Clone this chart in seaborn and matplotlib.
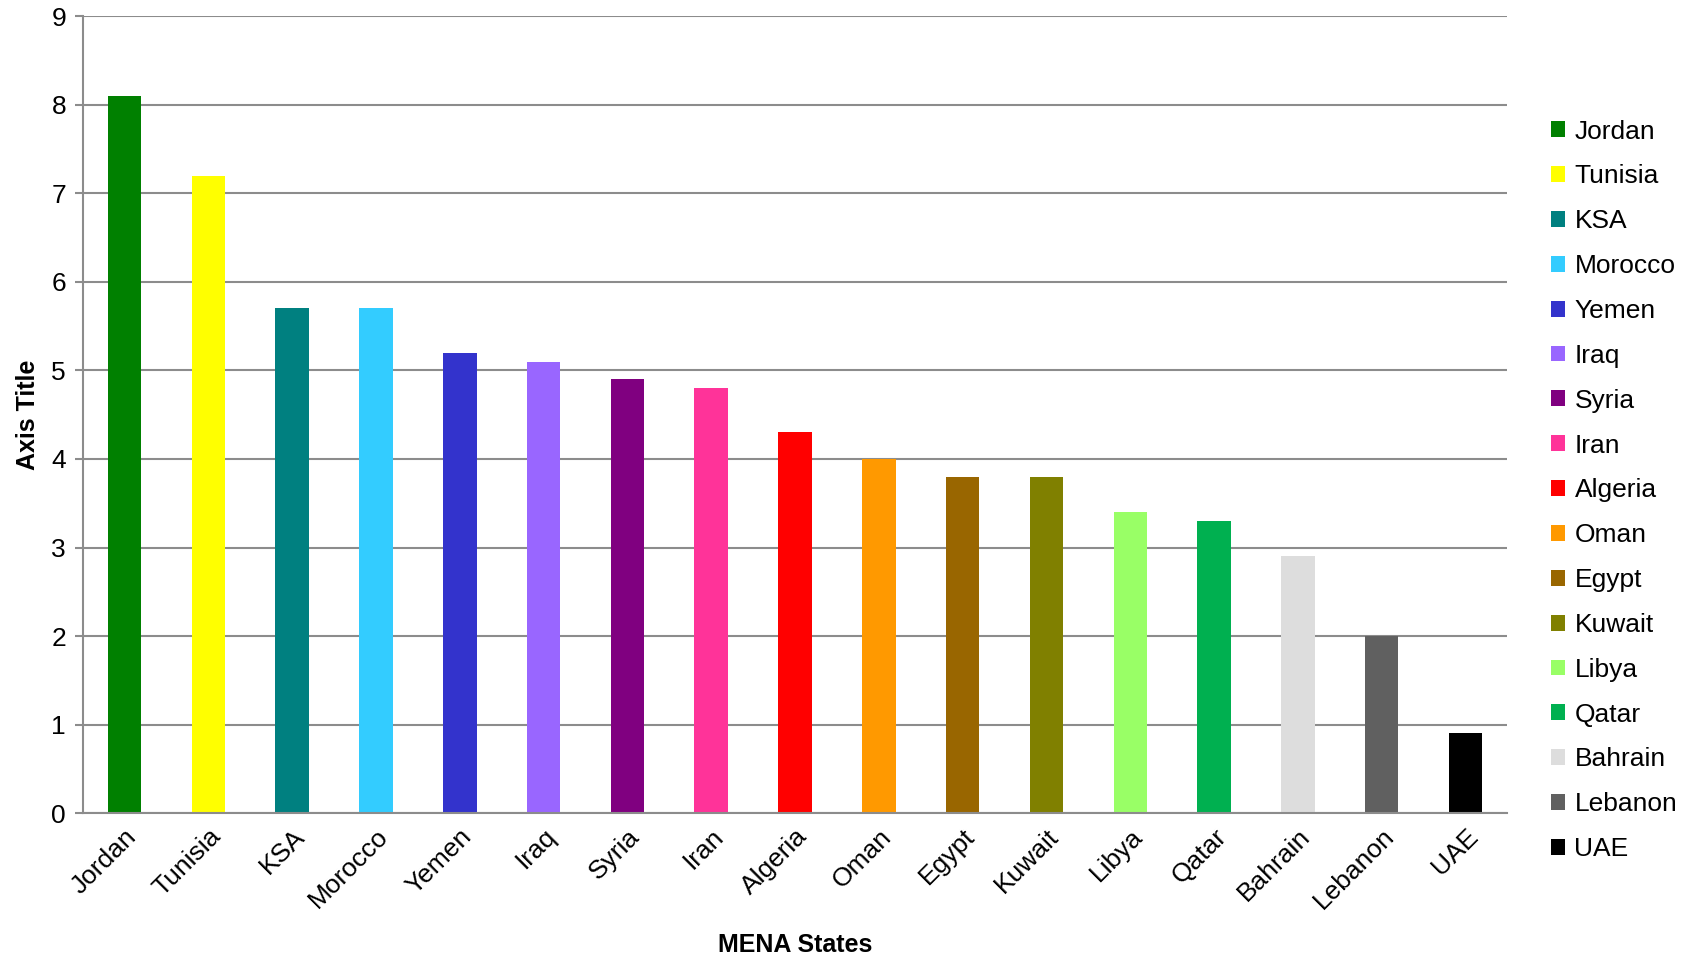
import matplotlib
matplotlib.use("Agg")
import matplotlib.pyplot as plt
import seaborn as sns
import pandas as pd

countries = ["Jordan", "Tunisia", "KSA", "Morocco", "Yemen", "Iraq", "Syria", "Iran",
             "Algeria", "Oman", "Egypt", "Kuwait", "Libya", "Qatar", "Bahrain",
             "Lebanon", "UAE"]
values = [8.1, 7.2, 5.7, 5.7, 5.2, 5.1, 4.9, 4.8, 4.3, 4.0, 3.8, 3.8, 3.4, 3.3, 2.9, 2.0, 0.9]
colors = ["#008000", "#FFFF00", "#008080", "#33CCFF", "#3333CC", "#9966FF", "#800080",
          "#FF3399", "#FF0000", "#FF9900", "#996600", "#808000", "#99FF66", "#00B050",
          "#DDDDDD", "#606060", "#000000"]

df = pd.DataFrame({"country": countries, "value": values})

sns.set_style("white")
plt.rcParams["font.family"] = ["Liberation Sans", "DejaVu Sans"]
plt.rcParams["text.color"] = "black"
plt.rcParams["axes.labelcolor"] = "black"
plt.rcParams["xtick.color"] = "black"
plt.rcParams["ytick.color"] = "black"

fig = plt.figure(figsize=(16.88, 9.6), dpi=100)
ax = fig.add_axes([0.049, 0.153, 0.844, 0.830])

sns.barplot(data=df, x="country", y="value", hue="country", palette=colors,
            width=0.4, dodge=False, legend=True, ax=ax, saturation=1, linewidth=0)

ax.set_xlim(-0.5, len(countries) - 0.5)
ax.set_ylim(0, 9)
ax.set_yticks(range(0, 10))
ax.yaxis.grid(True, color="#8c8c8c", linewidth=1.5)
ax.set_axisbelow(True)
for side in ["top", "right"]:
    ax.spines[side].set_visible(False)
for side in ["left", "bottom"]:
    ax.spines[side].set_color("#8c8c8c")
    ax.spines[side].set_linewidth(1.5)

ax.tick_params(axis="y", labelsize=19, length=6, width=1.5, color="#8c8c8c",
               labelcolor="black", direction="out", left=True, pad=6)
ax.tick_params(axis="x", labelsize=19, length=0, pad=8, labelcolor="black")
plt.setp(ax.get_xticklabels(), rotation=45, ha="right", rotation_mode="anchor")

ax.set_xlabel("MENA States", fontsize=18, fontweight="bold", labelpad=14)
ax.set_ylabel("Axis Title", fontsize=18, fontweight="bold", labelpad=8)

handles, labels = ax.get_legend_handles_labels()
ax.legend(handles, labels, loc="center left", bbox_to_anchor=(1.023, 0.405),
          frameon=False, fontsize=19, handlelength=0.55, handleheight=0.55,
          handletextpad=0.35, labelspacing=0.79, borderaxespad=0)

fig.savefig("out.png", dpi=100)
